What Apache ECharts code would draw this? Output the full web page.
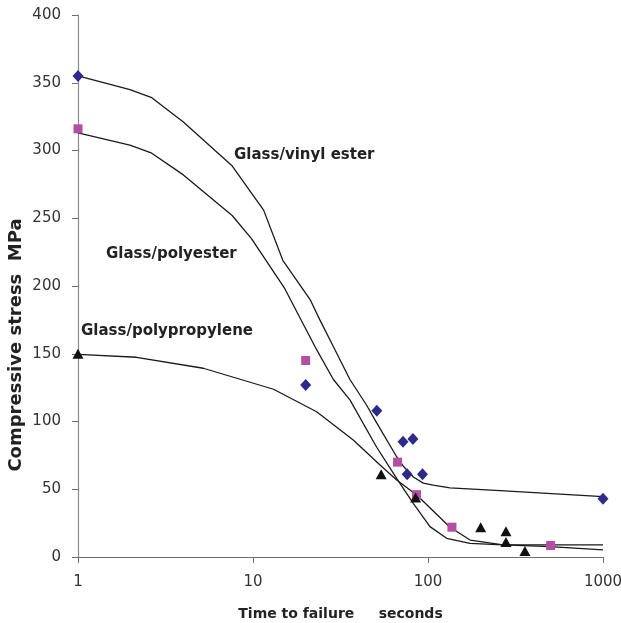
<!DOCTYPE html>
<html>
<head>
<meta charset="utf-8">
<script src="https://cdn.jsdelivr.net/npm/echarts@6/dist/echarts.min.js"></script>
<style>html,body{margin:0;padding:0;background:#fff}#c{width:621px;height:623px}</style>
</head>
<body>
<div id="c"></div>
<script>
// Measured points (time to failure in seconds, compressive stress in MPa)
var vinylPts = [[1,355],[20,127],[51,108],[72,85],[76,61],[82,87],[93,61],[1000,43]];
var polyesterPts = [[1,316],[20,145],[67,70],[86,46],[137,22],[502,8.5]];
var polypropPts = [[1,150],[54,61],[85,44],[200,22],[279,19],[279,11],[358,4.5]];

// Fitted curves
var vinylCurve = [[1,355],[1.98,345],[2.64,339],[4.0,321],[7.56,289],[11.5,256],[14.8,219],[21.2,190],[24.1,175],[29.4,153],[35.8,131],[44.6,112],[50.9,99],[66.2,74],[72.3,67],[82.4,59],[94,54.5],[107,53],[133.6,51],[258,49],[1000,44.5]];
var polyesterCurve = [[1,313],[1.98,304],[2.64,298],[4.0,282],[7.6,252],[9.8,235],[15.2,198],[23.1,153],[28.8,131],[35.8,116],[50.9,81],[66.2,58],[82.4,39.6],[102.6,22.4],[127.8,13.8],[174,10.1],[269,8.9],[1000,8.9]];
var polypropCurve = [[1,149.6],[2.16,147.4],[5.2,139.3],[13.1,123.8],[23.1,107.2],[37.4,86.3],[53.2,67.9],[66.2,56.8],[86.2,45.8],[133.6,21.9],[174,12.5],[269,8.9],[498,7.6],[1000,5.2]];

var yTicks = {min:0, max:400, interval:50};
var xTicks = {min:1, max:1000};

var chart = echarts.init(document.getElementById('c'));
var lineStyle = {color:'#1a1a1a', width:1.3};
var titleFont = 'DejaVu Sans, Liberation Sans, Arial';
chart.setOption({
  animation:false,
  backgroundColor:'#fff',
  grid:{left:78, right:18, top:15, bottom:66, containLabel:false, outerBoundsMode:'none'},
  xAxis:{
    type:'log', logBase:10, min:xTicks.min, max:xTicks.max,
    name:'Time to failure     seconds', nameLocation:'middle', nameGap:50,
    nameTextStyle:{fontFamily:titleFont, fontWeight:'bold', fontSize:14, color:'#222'},
    axisLine:{lineStyle:{color:'#6e6e6e', width:1.2}},
    axisTick:{show:true, length:6, lineStyle:{color:'#6e6e6e'}},
    minorTick:{show:false},
    axisLabel:{margin:18, fontFamily:'DejaVu Sans', fontSize:15, color:'#333', formatter:function(v){return String(v);}},
    splitLine:{show:false}, minorSplitLine:{show:false}
  },
  yAxis:{
    type:'value', min:yTicks.min, max:yTicks.max, interval:yTicks.interval,
    axisLine:{show:true, lineStyle:{color:'#8a8a8a', width:1.2}},
    axisTick:{show:true, length:6, lineStyle:{color:'#6e6e6e'}},
    axisLabel:{margin:17, fontFamily:'DejaVu Sans', fontSize:15, color:'#333'},
    splitLine:{show:false}
  },
  graphic:[
    {type:'text', x:16, y:345, rotation:Math.PI/2, style:{text:'Compressive stress  MPa', fontFamily:titleFont, fontWeight:'bold', fontSize:18, fill:'#222', align:'center', verticalAlign:'middle'}},
    {type:'text', x:234, y:155, style:{text:'Glass/vinyl ester', fontFamily:titleFont, fontWeight:'bold', fontSize:15, fill:'#222', align:'left', verticalAlign:'middle'}},
    {type:'text', x:106, y:254, style:{text:'Glass/polyester', fontFamily:titleFont, fontWeight:'bold', fontSize:15, fill:'#222', align:'left', verticalAlign:'middle'}},
    {type:'text', x:81, y:331, style:{text:'Glass/polypropylene', fontFamily:titleFont, fontWeight:'bold', fontSize:15, fill:'#222', align:'left', verticalAlign:'middle'}}
  ],
  series:[
    {type:'line', data:vinylCurve, showSymbol:false, symbol:'none', lineStyle:lineStyle, z:2},
    {type:'line', data:polyesterCurve, showSymbol:false, symbol:'none', lineStyle:lineStyle, z:2},
    {type:'line', data:polypropCurve, showSymbol:false, symbol:'none', lineStyle:lineStyle, z:2},
    {type:'scatter', data:vinylPts, symbol:'diamond', symbolSize:[11,12], itemStyle:{color:'#2e2a8c', opacity:1}, clip:false, z:3},
    {type:'scatter', data:polyesterPts, symbol:'rect', symbolSize:9, itemStyle:{color:'#b24fa3', opacity:1}, clip:false, z:3},
    {type:'scatter', data:polypropPts, symbol:'triangle', symbolSize:[11,10], itemStyle:{color:'#111', opacity:1}, clip:false, z:3}
  ]
});
</script>
</body>
</html>
